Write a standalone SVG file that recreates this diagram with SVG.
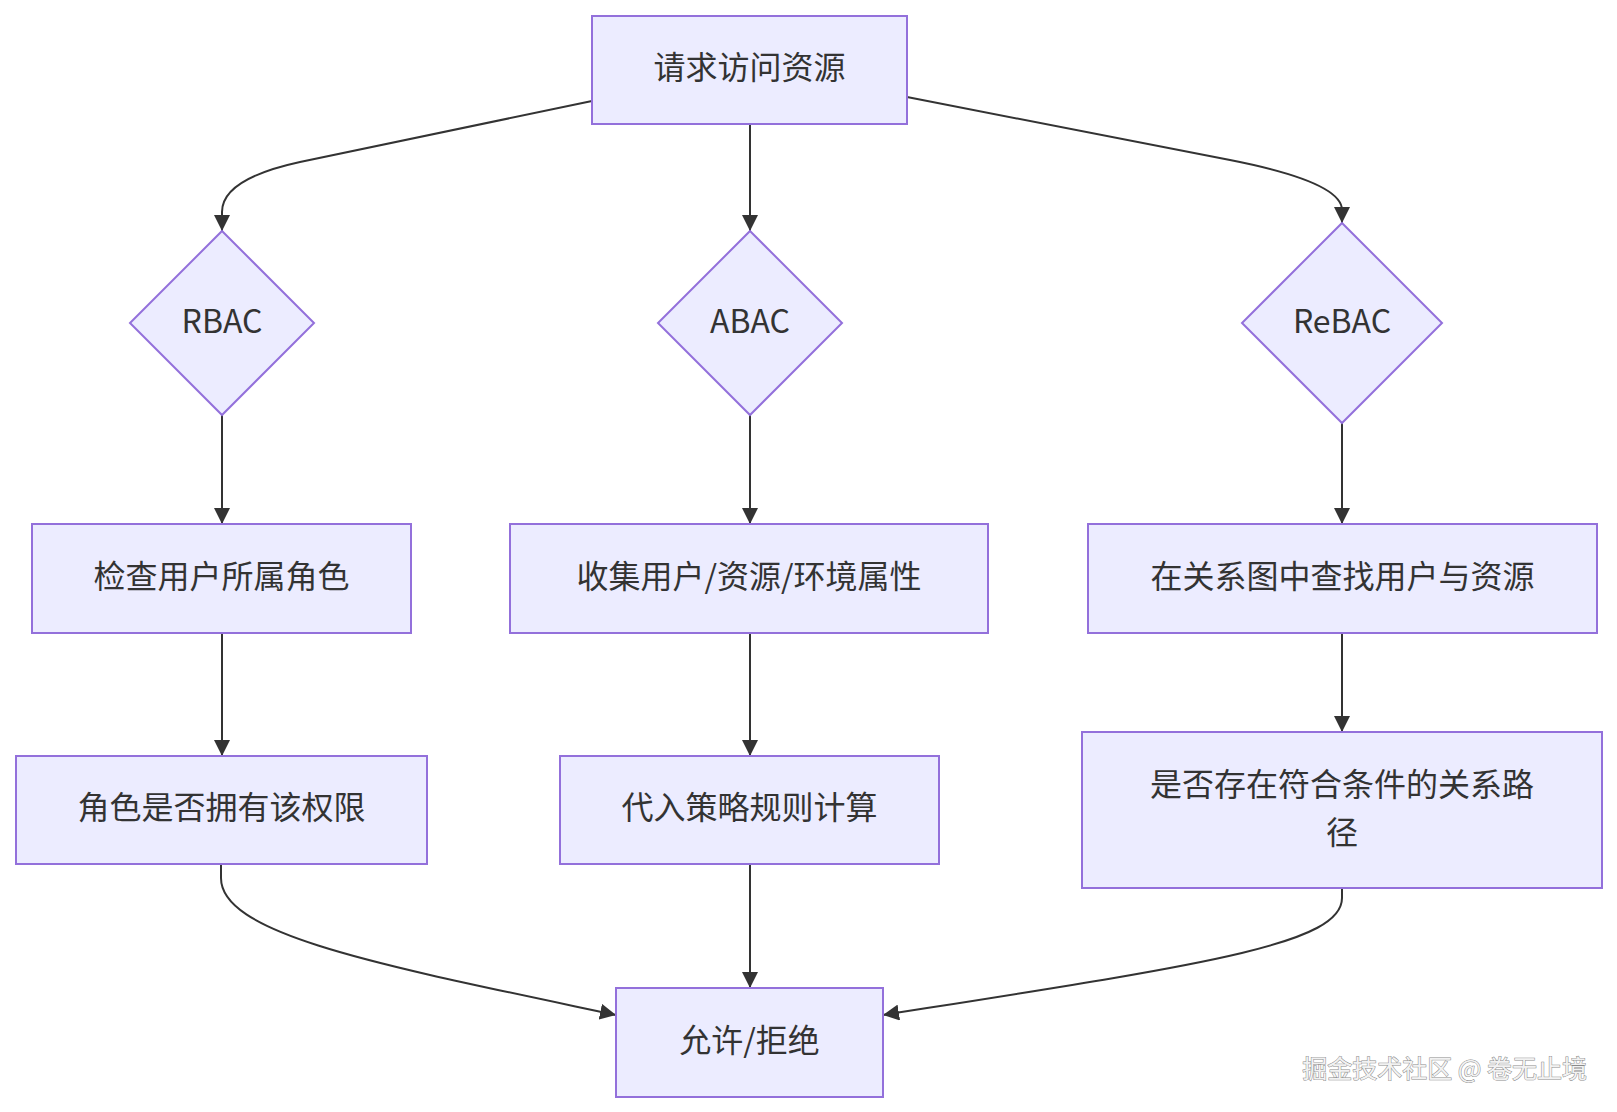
<svg xmlns="http://www.w3.org/2000/svg" width="1617" height="1112" viewBox="0 0 1617 1112">
<style>
.node rect,.node polygon{fill:#ECECFF;stroke:#9370DB;stroke-width:2}
.node text{font-family:"Noto Sans CJK SC","Noto Sans",sans-serif;font-size:32px;fill:#333;text-anchor:middle;dominant-baseline:central}
.edges path{fill:none;stroke:#333;stroke-width:2;marker-end:url(#arrow)}
.wm{font-family:"Noto Sans CJK SC",sans-serif;font-size:25px;fill:#f2f2f2;stroke:#8a8a8a;stroke-width:1;paint-order:stroke}
</style>
<defs>
<marker id="arrow" markerUnits="userSpaceOnUse" viewBox="0 0 16 16" refX="16" refY="8" markerWidth="16" markerHeight="16" orient="auto">
<path d="M0,0 L16,8 L0,16 z" fill="#333"/>
</marker>
</defs>
<rect width="1617" height="1112" fill="#fff"/>
<g class="edges">
<path d="M592,101 L300,162 Q222,179 222,212 L222,231"/>
<path d="M750,124 L750,231"/>
<path d="M907,97 L1230,160 Q1342,182 1342,210 L1342,223"/>
<path d="M222,415 L222,524"/>
<path d="M750,415 L750,524"/>
<path d="M1342,423 L1342,524"/>
<path d="M222,633 L222,756"/>
<path d="M750,633 L750,756"/>
<path d="M1342,633 L1342,732"/>
<path d="M221,864 L221,878 C221,935 380,965 616,1015"/>
<path d="M750,864 L750,988"/>
<path d="M1342,888 L1342,898 C1342,945 1200,965 883,1015"/>
</g>
<g id="start" class="node"><rect x="592" y="16" width="315" height="108"/><text x="749.5" y="65">请求访问资源</text></g>
<g id="rbac" class="node"><polygon points="222,231 314,323 222,415 130,323"/><text x="222" y="319">RBAC</text></g>
<g id="abac" class="node"><polygon points="750,231 842,323 750,415 658,323"/><text x="750" y="319">ABAC</text></g>
<g id="rebac" class="node"><polygon points="1342,223 1442,323 1342,423 1242,323"/><text x="1342" y="319">ReBAC</text></g>
<g id="r1" class="node"><rect x="32" y="524" width="379" height="109"/><text x="221.5" y="574">检查用户所属角色</text></g>
<g id="a1" class="node"><rect x="510" y="524" width="478" height="109"/><text x="749" y="574">收集用户/资源/环境属性</text></g>
<g id="re1" class="node"><rect x="1088" y="524" width="509" height="109"/><text x="1342.5" y="574">在关系图中查找用户与资源</text></g>
<g id="r2" class="node"><rect x="16" y="756" width="411" height="108"/><text x="221.5" y="805">角色是否拥有该权限</text></g>
<g id="a2" class="node"><rect x="560" y="756" width="379" height="108"/><text x="749.5" y="805">代入策略规则计算</text></g>
<g id="re2" class="node"><rect x="1082" y="732" width="520" height="156"/><text x="1342" y="782">是否存在符合条件的关系路</text><text x="1342" y="830">径</text></g>
<g id="end" class="node"><rect x="616" y="988" width="267" height="109"/><text x="749.5" y="1038">允许/拒绝</text></g>
<text class="wm" x="1587" y="1078" text-anchor="end">掘金技术社区 @ 卷无止境</text>
</svg>
